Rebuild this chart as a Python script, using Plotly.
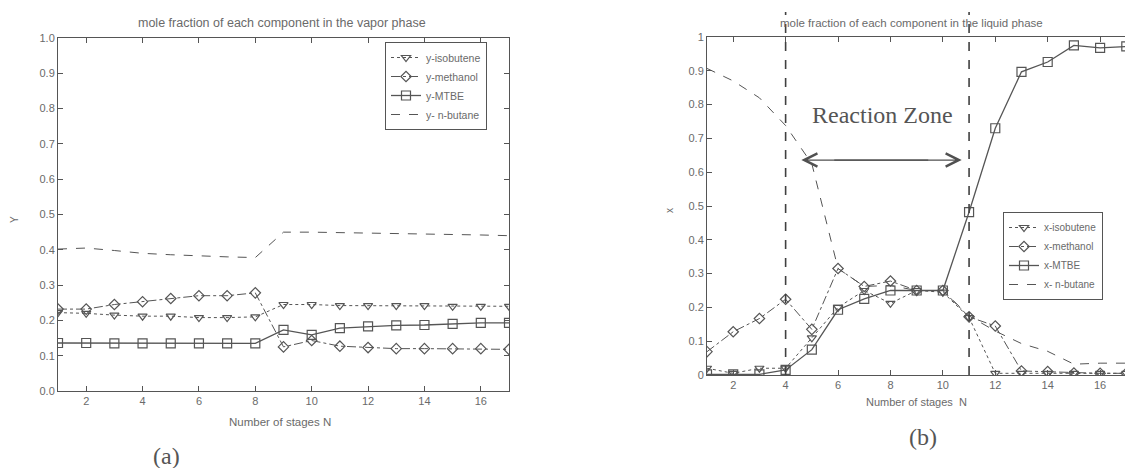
import plotly.graph_objects as go

W, H = 1125, 468

stages = list(range(1, 18))

# vapor phase (a)
y_isobutene = [0.222, 0.220, 0.215, 0.212, 0.212, 0.208, 0.208, 0.210, 0.245, 0.245,
               0.242, 0.242, 0.242, 0.242, 0.240, 0.240, 0.240]
y_methanol = [0.232, 0.232, 0.245, 0.253, 0.262, 0.270, 0.270, 0.278, 0.125, 0.143,
              0.127, 0.123, 0.120, 0.120, 0.120, 0.120, 0.118]
y_mtbe = [0.136, 0.136, 0.135, 0.135, 0.135, 0.135, 0.135, 0.135, 0.173, 0.159,
          0.178, 0.183, 0.186, 0.187, 0.190, 0.193, 0.193]
y_nbutane = [0.402, 0.405, 0.398, 0.390, 0.386, 0.382, 0.380, 0.378, 0.450, 0.450,
             0.449, 0.447, 0.445, 0.444, 0.443, 0.442, 0.440]

# liquid phase (b)
x_isobutene = [0.020, 0.005, 0.020, 0.020, 0.110, 0.200, 0.250, 0.212, 0.250, 0.245,
               0.170, 0.005, 0.005, 0.005, 0.005, 0.005, 0.005]
x_methanol = [0.069, 0.128, 0.167, 0.224, 0.135, 0.315, 0.262, 0.278, 0.250, 0.250,
              0.172, 0.145, 0.012, 0.010, 0.006, 0.005, 0.005]
x_mtbe = [0.002, 0.002, 0.002, 0.015, 0.075, 0.193, 0.225, 0.250, 0.250, 0.250,
          0.482, 0.730, 0.897, 0.926, 0.975, 0.968, 0.972]
x_nbutane = [0.907, 0.870, 0.820, 0.738, 0.625, 0.315, 0.262, 0.265, 0.250, 0.250,
             0.175, 0.130, 0.093, 0.070, 0.032, 0.035, 0.035]

y_ticks_a = [round(0.1 * i, 1) for i in range(11)]
y_ticktext_a = [f"{v:.1f}" for v in y_ticks_a]
y_ticks_b = [round(0.1 * i, 1) for i in range(11)]
y_ticktext_b = ["0"] + [f"{v:.1f}" for v in y_ticks_b[1:-1]] + ["1"]
x_ticks = [2, 4, 6, 8, 10, 12, 14, 16]

LC = "#555555"
TC = "#6a6a6a"
FONT = "Liberation Sans, Arial, sans-serif"
SERIF = "Liberation Serif, Times New Roman, serif"


def px(x):
    return x / W


def py(y):
    return 1 - y / H


fig = go.Figure()

series = [
    ("isobutene", "triangle-down-open", "dot", 1.0, 8),
    ("methanol", "diamond-open", "dashdot", 1.0, 8),
    ("MTBE", "square-open", "solid", 1.3, 9),
    (" n-butane", None, "dash", 1.0, 0),
]
vap = [y_isobutene, y_methanol, y_mtbe, y_nbutane]
liq = [x_isobutene, x_methanol, x_mtbe, x_nbutane]


def add_series(prefix, data, xa, ya, leg):
    for (name, sym, dash, lw, ms), vals in zip(series, data):
        fig.add_trace(go.Scatter(
            x=stages, y=vals, name=prefix + name,
            mode="lines+markers" if sym else "lines",
            line=dict(color=LC, width=lw, dash=dash),
            marker=dict(symbol=sym, size=ms, color=LC, line=dict(width=1.2, color=LC)) if sym else None,
            xaxis=xa, yaxis=ya, legend=leg,
        ))


add_series("y-", vap, "x", "y", "legend")
add_series("x-", liq, "x2", "y2", "legend2")

axis_common = dict(
    showline=True, linecolor=LC, linewidth=1, ticks="inside", ticklen=5,
    tickcolor=LC, showgrid=False, zeroline=False, automargin=False,
    tickfont=dict(family=FONT, size=11, color=TC),
)

fig.update_layout(
    width=W, height=H, autosize=False,
    margin=dict(l=0, r=0, t=0, b=0, pad=0, autoexpand=False),
    paper_bgcolor="white", plot_bgcolor="white",
    showlegend=True,
    xaxis=dict(domain=[px(58), px(509)], range=[1, 17], tickvals=x_ticks,
               mirror="ticks", anchor="y", **axis_common),
    yaxis=dict(domain=[py(391), py(38)], range=[0, 1], tickvals=y_ticks_a,
               ticktext=y_ticktext_a, mirror="ticks", anchor="x", **axis_common),
    xaxis2=dict(domain=[px(707), 1.0], range=[1, 16.95], tickvals=x_ticks,
                mirror="ticks", anchor="y2", **axis_common),
    yaxis2=dict(domain=[py(375), py(37)], range=[0, 1], tickvals=y_ticks_b,
                ticktext=y_ticktext_b, mirror=False, anchor="x2", **axis_common),
    legend=dict(x=px(385), y=py(42), xanchor="left", yanchor="top",
                bordercolor=LC, borderwidth=1, bgcolor="white",
                font=dict(family=FONT, size=10.5, color=TC),
                tracegroupgap=0, itemwidth=30),
    legend2=dict(x=px(1003), y=py(212), xanchor="left", yanchor="top",
                 bordercolor=LC, borderwidth=1, bgcolor="white",
                 font=dict(family=FONT, size=10, color=TC),
                 tracegroupgap=0, itemwidth=30),
)

# reaction zone boundaries
for xv in [4, 11]:
    fig.add_shape(type="line", xref="x2", yref="paper", x0=xv, x1=xv,
                  y0=py(375), y1=py(12), line=dict(color="#404040", width=1.6, dash="dash"))


def note(text, x, y, size, family=FONT, color=TC, angle=0, xref="paper", yref="paper"):
    return dict(text=text, x=x, y=y, xref=xref, yref=yref, xanchor="center",
                yanchor="middle", showarrow=False, textangle=angle,
                font=dict(family=family, size=size, color=color))


ann = [
    note("mole fraction of each component in the vapor phase", px(282), py(23), 12.5),
    note("mole fraction of each component in the liquid phase", px(911), py(23), 11.5),
    note("Number of stages N", px(280), py(422), 11.5),
    note("Number of stages \u00a0N", px(916), py(402), 11),
    note("Y", px(14), py(220), 10, angle=-90),
    note("x", px(670), py(210), 10, angle=-90),
    note("(a)", px(166), py(456), 24, family=SERIF, color="#555"),
    note("(b)", px(923), py(437), 24, family=SERIF, color="#555"),
    note("Reaction Zone", 7.68, 0.77, 24, family=SERIF, color="#555", xref="x2", yref="y2"),
]
# double-headed arrow: two overlapping single-headed arrows
for xe, xt in [(4.6, 9.5), (10.72, 5.8)]:
    ann.append(dict(text="", x=xe, y=0.636, ax=xt, ay=0.636, xref="x2", yref="y2",
                    axref="x2", ayref="y2", showarrow=True, arrowhead=5, arrowsize=2,
                    arrowwidth=1.3, arrowcolor="#505050"))
fig.update_layout(annotations=ann)

fig.write_html("out.html", config={"displayModeBar": False},
               post_script="document.body.style.margin='0';document.body.style.padding='0';")
